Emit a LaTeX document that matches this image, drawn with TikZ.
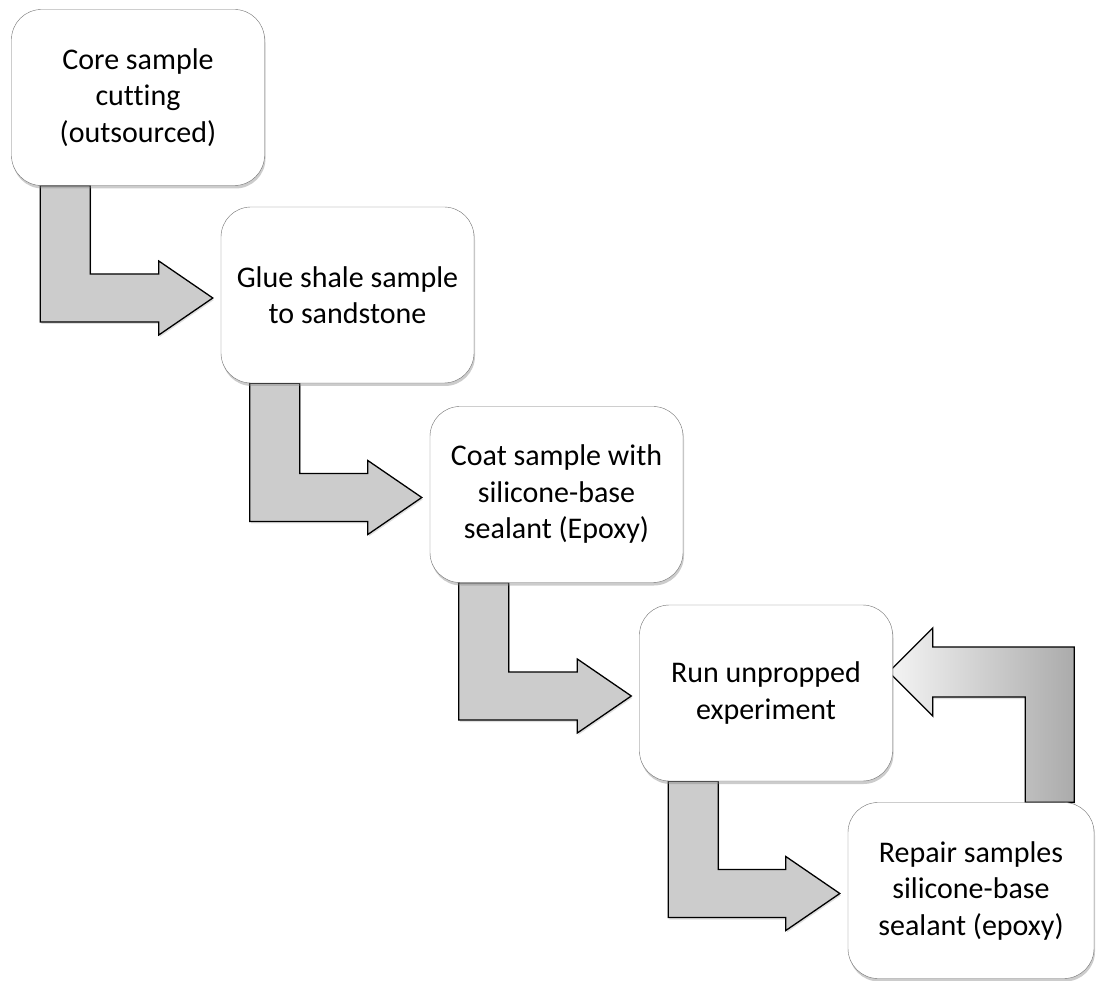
\documentclass[tikz,border=0pt]{standalone}
\usepackage{fontspec}
\setmainfont{Carlito}[Ligatures=NoCommon]
\usetikzlibrary{calc,shadows,backgrounds}

\tikzset{
  stepbox/.style={draw=black!55, fill=white, rounded corners=30pt,
    minimum width=253pt, minimum height=176pt, inner sep=0pt, align=center,
    font=\fontsize{30}{36.5}\selectfont,
    drop shadow={shadow xshift=1pt, shadow yshift=-3pt, opacity=.4}},
  flowarrow/.style={draw=black, line width=1.3pt, fill=black!20, line join=miter,
    drop shadow={shadow xshift=1pt, shadow yshift=-2pt, opacity=.25}},
  backarrow/.style={flowarrow, left color=black!4, right color=black!33}
}

% bent arrow from the bottom of one box to the left side of the next
\newcommand{\stepconnector}[2]{%
  \path ($(#1.south west)+(29,0)$) coordinate (s)
        ($(#2.west)+(-8,3)$) coordinate (t);
  \draw[flowarrow] (s) -- ++(50,0) |- ($(t)+(-54,-24)$) -- ++(0,-13) -- (t)
    -- ++(-54,37) -- ++(0,-13) -- ($(s|-t)+(0,24)$) -- cycle;
}

\begin{document}
\begin{tikzpicture}[x=1pt,y=-1pt]
  \useasboundingbox (0,0) rectangle (1096,981);

  \node[stepbox] (cut)    at (138,97.5)  {Core sample\\cutting\\(outsourced)};
  \node[stepbox] (glue)   at (347.5,295) {Glue shale sample\\to sandstone};
  \node[stepbox] (coat)   at (556.5,494.5) {Coat sample with\\silicone-base\\sealant (Epoxy)};
  \node[stepbox] (run)    at (766,693)   {Run unpropped\\experiment};
  \node[stepbox, minimum width=246pt] (repair) at (971,890.5) {Repair samples\\silicone-base\\sealant (epoxy)};

  \begin{scope}[on background layer]
    \stepconnector{cut}{glue}
    \stepconnector{glue}{coat}
    \stepconnector{coat}{run}
    \stepconnector{run}{repair}
    % loop back from repair to the experiment
    \path ($(repair.north east)+(-20,0)$) coordinate (r)
          ($(run.east)+(-4,-21)$) coordinate (b);
    \draw[backarrow] (r) |- ($(b)+(44,-25)$) -- ++(0,-19) -- (b) -- ++(44,44)
      -- ++(0,-19) -| ($(r)+(-49,0)$) -- cycle;
  \end{scope}
\end{tikzpicture}
\end{document}
